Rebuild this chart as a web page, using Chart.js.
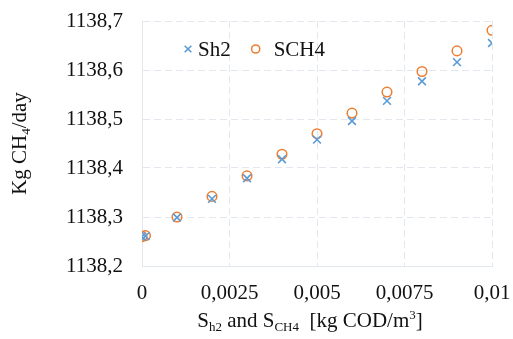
<!DOCTYPE html>
<html>
<head>
<meta charset="utf-8">
<script src="https://cdn.jsdelivr.net/npm/chart.js@4/dist/chart.umd.min.js"></script>
<style>
  html, body { margin: 0; padding: 0; background: #fff; }
  #wrap { width: 513px; height: 339px; }
</style>
</head>
<body>
<div id="wrap"><canvas id="chart"></canvas></div>
<script>
// concentration of Sh2 / SCH4 (kg COD/m3)
const xValues = [0, 0.0001, 0.001, 0.002, 0.003, 0.004, 0.005, 0.006, 0.007, 0.008, 0.009, 0.01];
// methane production (kg CH4/day)
const sh2Values  = [1138.26, 1138.261, 1138.299, 1138.337, 1138.379, 1138.418, 1138.458, 1138.496, 1138.537, 1138.577, 1138.616, 1138.655];
const sch4Values = [1138.26, 1138.262, 1138.300, 1138.342, 1138.384, 1138.428, 1138.470, 1138.512, 1138.555, 1138.597, 1138.639, 1138.681];
const seriesNames = ['Sh2', 'SCH4'];
const xTicks = [0, 0.0025, 0.005, 0.0075, 0.01];
const yTicks = [1138.2, 1138.3, 1138.4, 1138.5, 1138.6, 1138.7];
// title pieces: 0 normal, -1 subscript, 1 superscript
const yTitle = [['Kg CH', 0], ['4', -1], ['/day', 0]];
const xTitle = [['S', 0], ['h2', -1], [' and S', 0], ['CH4', -1], ['  [kg COD/m', 0], ['3', 1], [']', 0]];

const FONT = '"Liberation Serif", "Times New Roman", serif';
const SIZE = 21;
const textColor = '#111111';
const gridColor = '#e3e7ee';

function comma(v, digits) {
  return Number(v.toFixed(digits)).toString().replace('.', ',');
}

function drawRich(ctx, runs, size) {
  const fontOf = k => (k === 0 ? size : Math.round(size * 0.6)) + 'px ' + FONT;
  let w = 0;
  runs.forEach(([t, k]) => { ctx.font = fontOf(k); w += ctx.measureText(t).width; });
  let x = -w / 2;
  runs.forEach(([t, k]) => {
    ctx.font = fontOf(k);
    const dy = k === -1 ? size * 0.2 : k === 1 ? -size * 0.38 : 0;
    ctx.fillText(t, x, dy);
    x += ctx.measureText(t).width;
  });
}

const extras = {
  id: 'extras',
  afterDraw(chart) {
    const { ctx, chartArea: a } = chart;
    ctx.save();
    ctx.fillStyle = textColor;
    ctx.textAlign = 'left';
    ctx.textBaseline = 'alphabetic';

    // axis titles
    ctx.save();
    ctx.translate((a.left + a.right) / 2 - 7, 327);
    drawRich(ctx, xTitle, SIZE);
    ctx.restore();

    ctx.save();
    ctx.translate(26, (a.top + a.bottom) / 2);
    ctx.rotate(-Math.PI / 2);
    drawRich(ctx, yTitle, SIZE);
    ctx.restore();

    // legend inside plot
    const gaps = [10, 18];
    let x = a.left + 46;
    const y = a.top + 28;
    ctx.textBaseline = 'middle';
    ctx.font = SIZE + 'px ' + FONT;
    chart.data.datasets.forEach((ds, i) => {
      ctx.save();
      ctx.strokeStyle = ds.borderColor;
      ctx.fillStyle = ds.backgroundColor;
      ctx.lineWidth = ds.borderWidth;
      Chart.helpers.drawPoint(ctx, {
        pointStyle: ds.pointStyle, radius: ds.pointRadius * 0.85, rotation: 0, borderWidth: ds.borderWidth
      }, x, y);
      ctx.restore();
      ctx.fillStyle = textColor;
      ctx.fillText(ds.label, x + gaps[i], y + 1);
      x += gaps[i] + ctx.measureText(ds.label).width + 25;
    });
    ctx.restore();
  }
};

const toPoints = ys => xValues.map((x, i) => ({ x: x, y: ys[i] }));

new Chart(document.getElementById('chart'), {
  type: 'scatter',
  data: {
    datasets: [
      {
        label: seriesNames[0],
        data: toPoints(sh2Values),
        pointStyle: 'crossRot',
        pointRadius: 5.5,
        pointHoverRadius: 5.5,
        borderColor: '#5b9bd5',
        backgroundColor: '#5b9bd5',
        borderWidth: 1.6
      },
      {
        label: seriesNames[1],
        data: toPoints(sch4Values),
        pointStyle: 'circle',
        pointRadius: 4.8,
        pointHoverRadius: 4.8,
        borderColor: '#ed7d31',
        backgroundColor: 'rgba(0,0,0,0)',
        borderWidth: 1.5
      }
    ]
  },
  options: {
    responsive: true,
    maintainAspectRatio: false,
    animation: false,
    layout: { padding: { top: 21, right: 21, left: 0, bottom: 0 } },
    plugins: {
      legend: { display: false },
      tooltip: { enabled: false }
    },
    scales: {
      x: {
        type: 'linear',
        min: 0,
        max: 0.01,
        afterBuildTicks: s => { s.ticks = xTicks.map(v => ({ value: v })); },
        afterFit: s => { s.height = 73; s.paddingLeft = 0; s.paddingRight = 0; },
        ticks: {
          padding: 15,
          color: textColor,
          font: { family: FONT, size: SIZE },
          callback: v => comma(v, 4)
        },
        grid: { color: gridColor, drawTicks: false },
        border: { color: gridColor, dash: [7, 4], width: 1 }
      },
      y: {
        min: 1138.2,
        max: 1138.7,
        afterBuildTicks: s => { s.ticks = yTicks.map(v => ({ value: v })); },
        afterFit: s => { s.width = 142; s.paddingTop = 0; s.paddingBottom = 0; },
        ticks: {
          padding: 19,
          color: textColor,
          font: { family: FONT, size: SIZE },
          callback: v => comma(v, 1)
        },
        grid: { color: gridColor, drawTicks: false },
        border: { color: gridColor, dash: [7, 4], width: 1 }
      }
    }
  },
  plugins: [extras]
});
</script>
</body>
</html>
